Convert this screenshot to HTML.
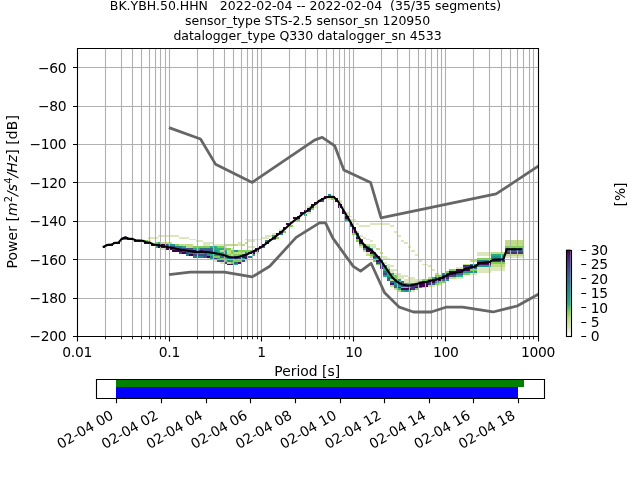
<!DOCTYPE html>
<html><head><meta charset="utf-8"><title>PPSD BK.YBH.50.HHN</title>
<style>html,body{margin:0;padding:0;background:#fff}body{width:640px;height:480px;overflow:hidden}</style></head>
<body>
<svg width="640" height="480" viewBox="0 0 640 480" style="display:block">
<rect width="640" height="480" fill="#fff"/>
<g shape-rendering="crispEdges"><rect x="327.91" y="194.40" width="3.47" height="1.92" fill="#1f968b"/><rect x="324.44" y="196.32" width="10.40" height="1.92" fill="#440154"/><rect x="320.98" y="198.24" width="3.47" height="1.92" fill="#440154"/><rect x="327.91" y="198.24" width="3.47" height="1.92" fill="#dce7be"/><rect x="331.38" y="198.24" width="3.47" height="1.92" fill="#7dcf50"/><rect x="334.85" y="198.24" width="3.47" height="1.92" fill="#440154"/><rect x="317.51" y="200.16" width="3.47" height="1.92" fill="#440154"/><rect x="320.98" y="200.16" width="3.47" height="1.92" fill="#3d4e8a"/><rect x="334.85" y="200.16" width="3.47" height="1.92" fill="#440154"/><rect x="338.31" y="200.16" width="3.47" height="1.92" fill="#dce7be"/><rect x="314.04" y="202.08" width="3.47" height="1.92" fill="#440154"/><rect x="338.31" y="202.08" width="3.47" height="1.92" fill="#dce7be"/><rect x="310.57" y="204.00" width="3.47" height="1.92" fill="#440154"/><rect x="338.31" y="204.00" width="3.47" height="1.92" fill="#440154"/><rect x="307.10" y="205.92" width="3.47" height="1.92" fill="#dce7be"/><rect x="310.57" y="205.92" width="3.47" height="1.92" fill="#46327e"/><rect x="314.04" y="205.92" width="3.47" height="1.92" fill="#dce7be"/><rect x="338.31" y="205.92" width="3.47" height="1.92" fill="#440154"/><rect x="341.78" y="205.92" width="3.47" height="1.92" fill="#dce7be"/><rect x="307.10" y="207.84" width="3.47" height="1.92" fill="#440154"/><rect x="310.57" y="207.84" width="3.47" height="1.92" fill="#7dcf50"/><rect x="303.64" y="209.76" width="3.47" height="1.92" fill="#440154"/><rect x="307.10" y="209.76" width="3.47" height="1.92" fill="#3d4e8a"/><rect x="341.78" y="209.76" width="3.47" height="1.92" fill="#440154"/><rect x="300.17" y="211.68" width="3.47" height="1.92" fill="#440154"/><rect x="307.10" y="211.68" width="3.47" height="1.92" fill="#dce7be"/><rect x="341.78" y="211.68" width="3.47" height="1.92" fill="#440154"/><rect x="345.25" y="211.68" width="3.47" height="1.92" fill="#dce7be"/><rect x="303.64" y="213.60" width="3.47" height="1.92" fill="#26ad81"/><rect x="345.25" y="213.60" width="3.47" height="1.92" fill="#dce7be"/><rect x="296.70" y="215.52" width="3.47" height="1.92" fill="#440154"/><rect x="345.25" y="215.52" width="3.47" height="1.92" fill="#440154"/><rect x="348.72" y="215.52" width="3.47" height="1.92" fill="#dce7be"/><rect x="293.23" y="217.44" width="3.47" height="1.92" fill="#440154"/><rect x="296.70" y="217.44" width="3.47" height="1.92" fill="#440154"/><rect x="345.25" y="217.44" width="3.47" height="1.92" fill="#440154"/><rect x="296.70" y="219.36" width="3.47" height="1.92" fill="#7dcf50"/><rect x="345.25" y="219.36" width="3.47" height="1.92" fill="#26ad81"/><rect x="348.72" y="219.36" width="6.94" height="1.92" fill="#dce7be"/><rect x="289.76" y="221.28" width="3.47" height="1.92" fill="#440154"/><rect x="348.72" y="221.28" width="3.47" height="1.92" fill="#440154"/><rect x="286.30" y="223.20" width="3.47" height="1.92" fill="#440154"/><rect x="348.72" y="223.20" width="3.47" height="1.92" fill="#440154"/><rect x="355.65" y="223.20" width="3.47" height="1.92" fill="#dce7be"/><rect x="369.53" y="223.20" width="20.81" height="1.92" fill="#dce7be"/><rect x="289.76" y="225.12" width="3.47" height="1.92" fill="#7dcf50"/><rect x="348.72" y="225.12" width="3.47" height="1.92" fill="#277f8e"/><rect x="359.12" y="225.12" width="10.40" height="1.92" fill="#dce7be"/><rect x="390.33" y="225.12" width="3.47" height="1.92" fill="#dce7be"/><rect x="282.83" y="227.04" width="3.47" height="1.92" fill="#440154"/><rect x="352.19" y="227.04" width="3.47" height="1.92" fill="#440154"/><rect x="279.36" y="228.96" width="3.47" height="1.92" fill="#dce7be"/><rect x="352.19" y="228.96" width="3.47" height="1.92" fill="#440154"/><rect x="279.36" y="230.88" width="3.47" height="1.92" fill="#440154"/><rect x="282.83" y="230.88" width="3.47" height="1.92" fill="#7dcf50"/><rect x="352.19" y="230.88" width="3.47" height="1.92" fill="#440154"/><rect x="355.65" y="230.88" width="3.47" height="1.92" fill="#dce7be"/><rect x="393.80" y="230.88" width="3.47" height="1.92" fill="#dce7be"/><rect x="272.43" y="232.80" width="3.47" height="1.92" fill="#dce7be"/><rect x="275.89" y="232.80" width="3.47" height="1.92" fill="#440154"/><rect x="279.36" y="232.80" width="3.47" height="1.92" fill="#277f8e"/><rect x="352.19" y="232.80" width="3.47" height="1.92" fill="#7dcf50"/><rect x="355.65" y="232.80" width="3.47" height="1.92" fill="#3d4e8a"/><rect x="157.99" y="234.72" width="20.81" height="1.92" fill="#dce7be"/><rect x="265.49" y="234.72" width="6.94" height="1.92" fill="#dce7be"/><rect x="272.43" y="234.72" width="3.47" height="1.92" fill="#26ad81"/><rect x="355.65" y="234.72" width="3.47" height="1.92" fill="#1f968b"/><rect x="359.12" y="234.72" width="3.47" height="1.92" fill="#dce7be"/><rect x="397.27" y="234.72" width="3.47" height="1.92" fill="#dce7be"/><rect x="123.31" y="236.64" width="3.47" height="1.92" fill="#440154"/><rect x="147.58" y="236.64" width="10.40" height="1.92" fill="#dce7be"/><rect x="178.79" y="236.64" width="10.40" height="1.92" fill="#dce7be"/><rect x="262.02" y="236.64" width="6.94" height="1.92" fill="#dce7be"/><rect x="272.43" y="236.64" width="3.47" height="1.92" fill="#440154"/><rect x="275.89" y="236.64" width="3.47" height="1.92" fill="#7dcf50"/><rect x="355.65" y="236.64" width="3.47" height="1.92" fill="#440154"/><rect x="362.59" y="236.64" width="3.47" height="1.92" fill="#dce7be"/><rect x="119.84" y="238.56" width="3.47" height="1.92" fill="#440154"/><rect x="123.31" y="238.56" width="3.47" height="1.92" fill="#1f968b"/><rect x="126.78" y="238.56" width="6.94" height="1.92" fill="#440154"/><rect x="133.71" y="238.56" width="6.94" height="1.92" fill="#dce7be"/><rect x="189.20" y="238.56" width="6.94" height="1.92" fill="#dce7be"/><rect x="244.68" y="238.56" width="17.34" height="1.92" fill="#dce7be"/><rect x="268.96" y="238.56" width="3.47" height="1.92" fill="#440154"/><rect x="272.43" y="238.56" width="3.47" height="1.92" fill="#26ad81"/><rect x="355.65" y="238.56" width="3.47" height="1.92" fill="#7dcf50"/><rect x="359.12" y="238.56" width="3.47" height="1.92" fill="#3d4e8a"/><rect x="366.06" y="238.56" width="3.47" height="1.92" fill="#dce7be"/><rect x="133.71" y="240.48" width="10.40" height="1.92" fill="#440154"/><rect x="144.11" y="240.48" width="3.47" height="1.92" fill="#7dcf50"/><rect x="147.58" y="240.48" width="3.47" height="1.92" fill="#dce7be"/><rect x="196.13" y="240.48" width="6.94" height="1.92" fill="#dce7be"/><rect x="248.15" y="240.48" width="6.94" height="1.92" fill="#dce7be"/><rect x="265.49" y="240.48" width="3.47" height="1.92" fill="#1f968b"/><rect x="355.65" y="240.48" width="3.47" height="1.92" fill="#7dcf50"/><rect x="359.12" y="240.48" width="3.47" height="1.92" fill="#440154"/><rect x="369.53" y="240.48" width="3.47" height="1.92" fill="#dce7be"/><rect x="400.74" y="240.48" width="3.47" height="1.92" fill="#dce7be"/><rect x="504.77" y="240.48" width="18.04" height="1.92" fill="#c0dd86"/><rect x="112.90" y="242.40" width="6.94" height="1.92" fill="#440154"/><rect x="144.11" y="242.40" width="6.94" height="1.92" fill="#440154"/><rect x="154.52" y="242.40" width="3.47" height="1.92" fill="#7dcf50"/><rect x="157.99" y="242.40" width="3.47" height="1.92" fill="#26ad81"/><rect x="161.45" y="242.40" width="10.40" height="1.92" fill="#c0dd86"/><rect x="203.07" y="242.40" width="10.40" height="1.92" fill="#dce7be"/><rect x="237.75" y="242.40" width="3.47" height="1.92" fill="#dce7be"/><rect x="244.68" y="242.40" width="3.47" height="1.92" fill="#c0dd86"/><rect x="265.49" y="242.40" width="3.47" height="1.92" fill="#440154"/><rect x="359.12" y="242.40" width="3.47" height="1.92" fill="#440154"/><rect x="404.20" y="242.40" width="3.47" height="1.92" fill="#dce7be"/><rect x="504.77" y="242.40" width="18.04" height="1.92" fill="#c0dd86"/><rect x="105.97" y="244.32" width="6.94" height="1.92" fill="#440154"/><rect x="151.05" y="244.32" width="13.87" height="1.92" fill="#440154"/><rect x="164.92" y="244.32" width="3.47" height="1.92" fill="#3d4e8a"/><rect x="168.39" y="244.32" width="6.94" height="1.92" fill="#1f968b"/><rect x="175.33" y="244.32" width="3.47" height="1.92" fill="#7dcf50"/><rect x="178.79" y="244.32" width="13.87" height="1.92" fill="#c0dd86"/><rect x="203.07" y="244.32" width="6.94" height="1.92" fill="#dce7be"/><rect x="213.47" y="244.32" width="10.40" height="1.92" fill="#dce7be"/><rect x="223.88" y="244.32" width="13.87" height="1.92" fill="#c0dd86"/><rect x="237.75" y="244.32" width="3.47" height="1.92" fill="#dce7be"/><rect x="241.21" y="244.32" width="3.47" height="1.92" fill="#c0dd86"/><rect x="262.02" y="244.32" width="3.47" height="1.92" fill="#440154"/><rect x="359.12" y="244.32" width="3.47" height="1.92" fill="#7dcf50"/><rect x="362.59" y="244.32" width="3.47" height="1.92" fill="#3d4e8a"/><rect x="366.06" y="244.32" width="3.47" height="1.92" fill="#c0dd86"/><rect x="369.53" y="244.32" width="6.94" height="1.92" fill="#dce7be"/><rect x="504.77" y="244.32" width="18.04" height="1.92" fill="#c0dd86"/><rect x="102.50" y="246.24" width="3.47" height="1.92" fill="#440154"/><rect x="154.52" y="246.24" width="3.47" height="1.92" fill="#26ad81"/><rect x="157.99" y="246.24" width="6.94" height="1.92" fill="#440154"/><rect x="164.92" y="246.24" width="10.40" height="1.92" fill="#3d4e8a"/><rect x="175.33" y="246.24" width="6.94" height="1.92" fill="#277f8e"/><rect x="182.26" y="246.24" width="3.47" height="1.92" fill="#26ad81"/><rect x="185.73" y="246.24" width="6.94" height="1.92" fill="#c0dd86"/><rect x="192.66" y="246.24" width="17.34" height="1.92" fill="#7dcf50"/><rect x="210.00" y="246.24" width="6.94" height="1.92" fill="#26ad81"/><rect x="216.94" y="246.24" width="6.94" height="1.92" fill="#7dcf50"/><rect x="223.88" y="246.24" width="3.47" height="1.92" fill="#dce7be"/><rect x="248.15" y="246.24" width="6.94" height="1.92" fill="#dce7be"/><rect x="258.55" y="246.24" width="3.47" height="1.92" fill="#440154"/><rect x="262.02" y="246.24" width="3.47" height="1.92" fill="#277f8e"/><rect x="359.12" y="246.24" width="3.47" height="1.92" fill="#dce7be"/><rect x="362.59" y="246.24" width="3.47" height="1.92" fill="#440154"/><rect x="366.06" y="246.24" width="3.47" height="1.92" fill="#26ad81"/><rect x="369.53" y="246.24" width="6.94" height="1.92" fill="#dce7be"/><rect x="407.67" y="246.24" width="3.47" height="1.92" fill="#dce7be"/><rect x="504.77" y="246.24" width="18.04" height="1.92" fill="#7dcf50"/><rect x="161.45" y="248.16" width="3.47" height="1.92" fill="#dce7be"/><rect x="164.92" y="248.16" width="6.94" height="1.92" fill="#440154"/><rect x="171.86" y="248.16" width="20.81" height="1.92" fill="#3d4e8a"/><rect x="192.66" y="248.16" width="6.94" height="1.92" fill="#26ad81"/><rect x="199.60" y="248.16" width="13.87" height="1.92" fill="#31688e"/><rect x="213.47" y="248.16" width="10.40" height="1.92" fill="#26ad81"/><rect x="223.88" y="248.16" width="6.94" height="1.92" fill="#7dcf50"/><rect x="230.81" y="248.16" width="3.47" height="1.92" fill="#dce7be"/><rect x="255.09" y="248.16" width="3.47" height="1.92" fill="#440154"/><rect x="362.59" y="248.16" width="3.47" height="1.92" fill="#1f968b"/><rect x="366.06" y="248.16" width="3.47" height="1.92" fill="#440154"/><rect x="369.53" y="248.16" width="3.47" height="1.92" fill="#26ad81"/><rect x="376.46" y="248.16" width="3.47" height="1.92" fill="#c0dd86"/><rect x="504.77" y="248.16" width="18.04" height="1.92" fill="#31688e"/><rect x="171.86" y="250.08" width="10.40" height="1.92" fill="#440154"/><rect x="182.26" y="250.08" width="3.47" height="1.92" fill="#3d4e8a"/><rect x="185.73" y="250.08" width="6.94" height="1.92" fill="#46327e"/><rect x="192.66" y="250.08" width="3.47" height="1.92" fill="#440154"/><rect x="196.13" y="250.08" width="3.47" height="1.92" fill="#3d4e8a"/><rect x="199.60" y="250.08" width="3.47" height="1.92" fill="#471365"/><rect x="203.07" y="250.08" width="10.40" height="1.92" fill="#3d4e8a"/><rect x="213.47" y="250.08" width="3.47" height="1.92" fill="#1f968b"/><rect x="216.94" y="250.08" width="3.47" height="1.92" fill="#26ad81"/><rect x="220.41" y="250.08" width="3.47" height="1.92" fill="#c0dd86"/><rect x="223.88" y="250.08" width="3.47" height="1.92" fill="#26ad81"/><rect x="227.34" y="250.08" width="3.47" height="1.92" fill="#c0dd86"/><rect x="230.81" y="250.08" width="3.47" height="1.92" fill="#7dcf50"/><rect x="234.28" y="250.08" width="3.47" height="1.92" fill="#1f968b"/><rect x="237.75" y="250.08" width="13.87" height="1.92" fill="#7dcf50"/><rect x="251.62" y="250.08" width="3.47" height="1.92" fill="#440154"/><rect x="255.09" y="250.08" width="3.47" height="1.92" fill="#46327e"/><rect x="362.59" y="250.08" width="3.47" height="1.92" fill="#c0dd86"/><rect x="366.06" y="250.08" width="3.47" height="1.92" fill="#440154"/><rect x="369.53" y="250.08" width="3.47" height="1.92" fill="#3d4e8a"/><rect x="411.14" y="250.08" width="3.47" height="1.92" fill="#dce7be"/><rect x="504.77" y="250.08" width="18.04" height="1.92" fill="#31688e"/><rect x="178.79" y="252.00" width="3.47" height="1.92" fill="#3d4e8a"/><rect x="182.26" y="252.00" width="3.47" height="1.92" fill="#440154"/><rect x="185.73" y="252.00" width="3.47" height="1.92" fill="#3d4e8a"/><rect x="189.20" y="252.00" width="3.47" height="1.92" fill="#277f8e"/><rect x="192.66" y="252.00" width="3.47" height="1.92" fill="#1f968b"/><rect x="196.13" y="252.00" width="10.40" height="1.92" fill="#26ad81"/><rect x="206.54" y="252.00" width="3.47" height="1.92" fill="#7dcf50"/><rect x="210.00" y="252.00" width="3.47" height="1.92" fill="#26ad81"/><rect x="213.47" y="252.00" width="3.47" height="1.92" fill="#277f8e"/><rect x="216.94" y="252.00" width="6.94" height="1.92" fill="#26ad81"/><rect x="223.88" y="252.00" width="3.47" height="1.92" fill="#1f968b"/><rect x="227.34" y="252.00" width="3.47" height="1.92" fill="#c0dd86"/><rect x="230.81" y="252.00" width="3.47" height="1.92" fill="#7dcf50"/><rect x="234.28" y="252.00" width="10.40" height="1.92" fill="#c0dd86"/><rect x="244.68" y="252.00" width="3.47" height="1.92" fill="#1f968b"/><rect x="248.15" y="252.00" width="3.47" height="1.92" fill="#440154"/><rect x="251.62" y="252.00" width="3.47" height="1.92" fill="#440154"/><rect x="255.09" y="252.00" width="3.47" height="1.92" fill="#dce7be"/><rect x="366.06" y="252.00" width="3.47" height="1.92" fill="#dce7be"/><rect x="369.53" y="252.00" width="3.47" height="1.92" fill="#440154"/><rect x="372.99" y="252.00" width="3.47" height="1.92" fill="#1f968b"/><rect x="379.93" y="252.00" width="3.47" height="1.92" fill="#c0dd86"/><rect x="477.03" y="252.00" width="13.87" height="1.92" fill="#dce7be"/><rect x="490.90" y="252.00" width="13.87" height="1.92" fill="#c0dd86"/><rect x="504.77" y="252.00" width="18.04" height="1.92" fill="#46327e"/><rect x="185.73" y="253.92" width="3.47" height="1.92" fill="#277f8e"/><rect x="189.20" y="253.92" width="3.47" height="1.92" fill="#440154"/><rect x="192.66" y="253.92" width="13.87" height="1.92" fill="#3d4e8a"/><rect x="206.54" y="253.92" width="3.47" height="1.92" fill="#1f968b"/><rect x="210.00" y="253.92" width="3.47" height="1.92" fill="#26ad81"/><rect x="213.47" y="253.92" width="6.94" height="1.92" fill="#1f968b"/><rect x="220.41" y="253.92" width="3.47" height="1.92" fill="#277f8e"/><rect x="223.88" y="253.92" width="3.47" height="1.92" fill="#26ad81"/><rect x="227.34" y="253.92" width="3.47" height="1.92" fill="#7dcf50"/><rect x="230.81" y="253.92" width="3.47" height="1.92" fill="#c0dd86"/><rect x="234.28" y="253.92" width="6.94" height="1.92" fill="#7dcf50"/><rect x="241.21" y="253.92" width="3.47" height="1.92" fill="#277f8e"/><rect x="244.68" y="253.92" width="3.47" height="1.92" fill="#3d4e8a"/><rect x="251.62" y="253.92" width="3.47" height="1.92" fill="#26ad81"/><rect x="366.06" y="253.92" width="3.47" height="1.92" fill="#c0dd86"/><rect x="369.53" y="253.92" width="3.47" height="1.92" fill="#7dcf50"/><rect x="372.99" y="253.92" width="3.47" height="1.92" fill="#277f8e"/><rect x="414.61" y="253.92" width="3.47" height="1.92" fill="#dce7be"/><rect x="477.03" y="253.92" width="13.87" height="1.92" fill="#dce7be"/><rect x="490.90" y="253.92" width="13.87" height="1.92" fill="#26ad81"/><rect x="504.77" y="253.92" width="18.04" height="1.92" fill="#c0dd86"/><rect x="192.66" y="255.84" width="10.40" height="1.92" fill="#277f8e"/><rect x="203.07" y="255.84" width="3.47" height="1.92" fill="#3d4e8a"/><rect x="206.54" y="255.84" width="3.47" height="1.92" fill="#440154"/><rect x="210.00" y="255.84" width="3.47" height="1.92" fill="#277f8e"/><rect x="213.47" y="255.84" width="6.94" height="1.92" fill="#7dcf50"/><rect x="220.41" y="255.84" width="3.47" height="1.92" fill="#31688e"/><rect x="223.88" y="255.84" width="3.47" height="1.92" fill="#277f8e"/><rect x="227.34" y="255.84" width="13.87" height="1.92" fill="#3d4e8a"/><rect x="241.21" y="255.84" width="6.94" height="1.92" fill="#471365"/><rect x="248.15" y="255.84" width="3.47" height="1.92" fill="#277f8e"/><rect x="369.53" y="255.84" width="3.47" height="1.92" fill="#c0dd86"/><rect x="372.99" y="255.84" width="3.47" height="1.92" fill="#46327e"/><rect x="376.46" y="255.84" width="3.47" height="1.92" fill="#3d4e8a"/><rect x="379.93" y="255.84" width="6.94" height="1.92" fill="#dce7be"/><rect x="490.90" y="255.84" width="13.87" height="1.92" fill="#1f968b"/><rect x="504.77" y="255.84" width="18.04" height="1.92" fill="#dce7be"/><rect x="206.54" y="257.76" width="3.47" height="1.92" fill="#dce7be"/><rect x="210.00" y="257.76" width="3.47" height="1.92" fill="#1f968b"/><rect x="213.47" y="257.76" width="3.47" height="1.92" fill="#46327e"/><rect x="216.94" y="257.76" width="3.47" height="1.92" fill="#1f968b"/><rect x="220.41" y="257.76" width="3.47" height="1.92" fill="#7dcf50"/><rect x="223.88" y="257.76" width="3.47" height="1.92" fill="#26ad81"/><rect x="227.34" y="257.76" width="6.94" height="1.92" fill="#277f8e"/><rect x="234.28" y="257.76" width="6.94" height="1.92" fill="#3d4e8a"/><rect x="241.21" y="257.76" width="3.47" height="1.92" fill="#1f968b"/><rect x="244.68" y="257.76" width="3.47" height="1.92" fill="#471365"/><rect x="372.99" y="257.76" width="3.47" height="1.92" fill="#277f8e"/><rect x="376.46" y="257.76" width="3.47" height="1.92" fill="#26ad81"/><rect x="383.40" y="257.76" width="6.94" height="1.92" fill="#dce7be"/><rect x="477.03" y="257.76" width="13.87" height="1.92" fill="#7dcf50"/><rect x="490.90" y="257.76" width="13.87" height="1.92" fill="#277f8e"/><rect x="213.47" y="259.68" width="3.47" height="1.92" fill="#dce7be"/><rect x="216.94" y="259.68" width="3.47" height="1.92" fill="#31688e"/><rect x="220.41" y="259.68" width="3.47" height="1.92" fill="#3d4e8a"/><rect x="223.88" y="259.68" width="3.47" height="1.92" fill="#7dcf50"/><rect x="227.34" y="259.68" width="6.94" height="1.92" fill="#1f968b"/><rect x="234.28" y="259.68" width="6.94" height="1.92" fill="#7dcf50"/><rect x="241.21" y="259.68" width="3.47" height="1.92" fill="#3d4e8a"/><rect x="244.68" y="259.68" width="3.47" height="1.92" fill="#dce7be"/><rect x="372.99" y="259.68" width="3.47" height="1.92" fill="#7dcf50"/><rect x="376.46" y="259.68" width="3.47" height="1.92" fill="#471365"/><rect x="379.93" y="259.68" width="3.47" height="1.92" fill="#1f968b"/><rect x="418.08" y="259.68" width="3.47" height="1.92" fill="#dce7be"/><rect x="470.09" y="259.68" width="6.94" height="1.92" fill="#c0dd86"/><rect x="477.03" y="259.68" width="13.87" height="1.92" fill="#277f8e"/><rect x="490.90" y="259.68" width="13.87" height="1.92" fill="#46327e"/><rect x="220.41" y="261.60" width="3.47" height="1.92" fill="#dce7be"/><rect x="223.88" y="261.60" width="3.47" height="1.92" fill="#3d4e8a"/><rect x="227.34" y="261.60" width="3.47" height="1.92" fill="#c0dd86"/><rect x="230.81" y="261.60" width="3.47" height="1.92" fill="#7dcf50"/><rect x="234.28" y="261.60" width="3.47" height="1.92" fill="#31688e"/><rect x="237.75" y="261.60" width="3.47" height="1.92" fill="#471365"/><rect x="376.46" y="261.60" width="6.94" height="1.92" fill="#3d4e8a"/><rect x="383.40" y="261.60" width="3.47" height="1.92" fill="#dce7be"/><rect x="477.03" y="261.60" width="13.87" height="1.92" fill="#440154"/><rect x="490.90" y="261.60" width="13.87" height="1.92" fill="#7dcf50"/><rect x="227.34" y="263.52" width="6.94" height="1.92" fill="#471365"/><rect x="234.28" y="263.52" width="3.47" height="1.92" fill="#26ad81"/><rect x="376.46" y="263.52" width="3.47" height="1.92" fill="#7dcf50"/><rect x="379.93" y="263.52" width="3.47" height="1.92" fill="#3d4e8a"/><rect x="386.86" y="263.52" width="3.47" height="1.92" fill="#dce7be"/><rect x="421.54" y="263.52" width="6.94" height="1.92" fill="#dce7be"/><rect x="463.16" y="263.52" width="6.94" height="1.92" fill="#c0dd86"/><rect x="470.09" y="263.52" width="6.94" height="1.92" fill="#277f8e"/><rect x="477.03" y="263.52" width="13.87" height="1.92" fill="#471365"/><rect x="490.90" y="263.52" width="13.87" height="1.92" fill="#c0dd86"/><rect x="379.93" y="265.44" width="3.47" height="1.92" fill="#46327e"/><rect x="383.40" y="265.44" width="3.47" height="1.92" fill="#1f968b"/><rect x="386.86" y="265.44" width="6.94" height="1.92" fill="#dce7be"/><rect x="428.48" y="265.44" width="3.47" height="1.92" fill="#dce7be"/><rect x="463.16" y="265.44" width="6.94" height="1.92" fill="#46327e"/><rect x="470.09" y="265.44" width="6.94" height="1.92" fill="#440154"/><rect x="477.03" y="265.44" width="13.87" height="1.92" fill="#1f968b"/><rect x="490.90" y="265.44" width="13.87" height="1.92" fill="#c0dd86"/><rect x="379.93" y="267.36" width="3.47" height="1.92" fill="#46327e"/><rect x="383.40" y="267.36" width="3.47" height="1.92" fill="#26ad81"/><rect x="386.86" y="267.36" width="3.47" height="1.92" fill="#c0dd86"/><rect x="456.22" y="267.36" width="6.94" height="1.92" fill="#dce7be"/><rect x="463.16" y="267.36" width="6.94" height="1.92" fill="#1f968b"/><rect x="470.09" y="267.36" width="6.94" height="1.92" fill="#31688e"/><rect x="477.03" y="267.36" width="27.74" height="1.92" fill="#dce7be"/><rect x="383.40" y="269.28" width="6.94" height="1.92" fill="#26ad81"/><rect x="390.33" y="269.28" width="6.94" height="1.92" fill="#dce7be"/><rect x="431.95" y="269.28" width="3.47" height="1.92" fill="#dce7be"/><rect x="449.29" y="269.28" width="6.94" height="1.92" fill="#7dcf50"/><rect x="456.22" y="269.28" width="6.94" height="1.92" fill="#440154"/><rect x="463.16" y="269.28" width="6.94" height="1.92" fill="#440154"/><rect x="470.09" y="269.28" width="6.94" height="1.92" fill="#7dcf50"/><rect x="477.03" y="269.28" width="27.74" height="1.92" fill="#dce7be"/><rect x="383.40" y="271.20" width="3.47" height="1.92" fill="#31688e"/><rect x="386.86" y="271.20" width="3.47" height="1.92" fill="#1f968b"/><rect x="390.33" y="271.20" width="3.47" height="1.92" fill="#dce7be"/><rect x="445.82" y="271.20" width="3.47" height="1.92" fill="#7dcf50"/><rect x="449.29" y="271.20" width="6.94" height="1.92" fill="#440154"/><rect x="456.22" y="271.20" width="6.94" height="1.92" fill="#471365"/><rect x="463.16" y="271.20" width="13.87" height="1.92" fill="#1f968b"/><rect x="477.03" y="271.20" width="13.87" height="1.92" fill="#dce7be"/><rect x="383.40" y="273.12" width="3.47" height="1.92" fill="#3d4e8a"/><rect x="386.86" y="273.12" width="6.94" height="1.92" fill="#26ad81"/><rect x="393.80" y="273.12" width="6.94" height="1.92" fill="#dce7be"/><rect x="435.42" y="273.12" width="3.47" height="1.92" fill="#c0dd86"/><rect x="442.35" y="273.12" width="3.47" height="1.92" fill="#277f8e"/><rect x="445.82" y="273.12" width="3.47" height="1.92" fill="#31688e"/><rect x="449.29" y="273.12" width="6.94" height="1.92" fill="#471365"/><rect x="456.22" y="273.12" width="6.94" height="1.92" fill="#31688e"/><rect x="463.16" y="273.12" width="6.94" height="1.92" fill="#7dcf50"/><rect x="470.09" y="273.12" width="6.94" height="1.92" fill="#dce7be"/><rect x="383.40" y="275.04" width="6.94" height="1.92" fill="#26ad81"/><rect x="390.33" y="275.04" width="6.94" height="1.92" fill="#7dcf50"/><rect x="397.27" y="275.04" width="10.40" height="1.92" fill="#dce7be"/><rect x="435.42" y="275.04" width="6.94" height="1.92" fill="#7dcf50"/><rect x="442.35" y="275.04" width="3.47" height="1.92" fill="#46327e"/><rect x="445.82" y="275.04" width="3.47" height="1.92" fill="#471365"/><rect x="449.29" y="275.04" width="6.94" height="1.92" fill="#3d4e8a"/><rect x="456.22" y="275.04" width="6.94" height="1.92" fill="#26ad81"/><rect x="386.86" y="276.96" width="3.47" height="1.92" fill="#31688e"/><rect x="390.33" y="276.96" width="3.47" height="1.92" fill="#1f968b"/><rect x="393.80" y="276.96" width="3.47" height="1.92" fill="#7dcf50"/><rect x="397.27" y="276.96" width="6.94" height="1.92" fill="#dce7be"/><rect x="407.67" y="276.96" width="6.94" height="1.92" fill="#dce7be"/><rect x="428.48" y="276.96" width="3.47" height="1.92" fill="#c0dd86"/><rect x="431.95" y="276.96" width="3.47" height="1.92" fill="#26ad81"/><rect x="435.42" y="276.96" width="3.47" height="1.92" fill="#3d4e8a"/><rect x="438.88" y="276.96" width="3.47" height="1.92" fill="#440154"/><rect x="442.35" y="276.96" width="3.47" height="1.92" fill="#471365"/><rect x="445.82" y="276.96" width="3.47" height="1.92" fill="#46327e"/><rect x="449.29" y="276.96" width="6.94" height="1.92" fill="#c0dd86"/><rect x="456.22" y="276.96" width="6.94" height="1.92" fill="#dce7be"/><rect x="386.86" y="278.88" width="3.47" height="1.92" fill="#31688e"/><rect x="390.33" y="278.88" width="3.47" height="1.92" fill="#c0dd86"/><rect x="393.80" y="278.88" width="3.47" height="1.92" fill="#277f8e"/><rect x="397.27" y="278.88" width="3.47" height="1.92" fill="#1f968b"/><rect x="404.20" y="278.88" width="17.34" height="1.92" fill="#dce7be"/><rect x="421.54" y="278.88" width="6.94" height="1.92" fill="#7dcf50"/><rect x="428.48" y="278.88" width="3.47" height="1.92" fill="#1f968b"/><rect x="431.95" y="278.88" width="3.47" height="1.92" fill="#3d4e8a"/><rect x="435.42" y="278.88" width="3.47" height="1.92" fill="#471365"/><rect x="438.88" y="278.88" width="3.47" height="1.92" fill="#440154"/><rect x="442.35" y="278.88" width="3.47" height="1.92" fill="#31688e"/><rect x="445.82" y="278.88" width="3.47" height="1.92" fill="#1f968b"/><rect x="390.33" y="280.80" width="3.47" height="1.92" fill="#31688e"/><rect x="393.80" y="280.80" width="3.47" height="1.92" fill="#277f8e"/><rect x="397.27" y="280.80" width="3.47" height="1.92" fill="#7dcf50"/><rect x="400.74" y="280.80" width="3.47" height="1.92" fill="#31688e"/><rect x="404.20" y="280.80" width="10.40" height="1.92" fill="#dce7be"/><rect x="414.61" y="280.80" width="3.47" height="1.92" fill="#c0dd86"/><rect x="418.08" y="280.80" width="3.47" height="1.92" fill="#26ad81"/><rect x="421.54" y="280.80" width="3.47" height="1.92" fill="#1f968b"/><rect x="425.01" y="280.80" width="3.47" height="1.92" fill="#3d4e8a"/><rect x="428.48" y="280.80" width="3.47" height="1.92" fill="#46327e"/><rect x="431.95" y="280.80" width="3.47" height="1.92" fill="#440154"/><rect x="435.42" y="280.80" width="3.47" height="1.92" fill="#1f968b"/><rect x="438.88" y="280.80" width="6.94" height="1.92" fill="#7dcf50"/><rect x="390.33" y="282.72" width="3.47" height="1.92" fill="#471365"/><rect x="393.80" y="282.72" width="3.47" height="1.92" fill="#1f968b"/><rect x="397.27" y="282.72" width="3.47" height="1.92" fill="#3d4e8a"/><rect x="400.74" y="282.72" width="3.47" height="1.92" fill="#7dcf50"/><rect x="404.20" y="282.72" width="10.40" height="1.92" fill="#26ad81"/><rect x="414.61" y="282.72" width="3.47" height="1.92" fill="#277f8e"/><rect x="418.08" y="282.72" width="6.94" height="1.92" fill="#440154"/><rect x="425.01" y="282.72" width="3.47" height="1.92" fill="#440154"/><rect x="428.48" y="282.72" width="3.47" height="1.92" fill="#46327e"/><rect x="431.95" y="282.72" width="3.47" height="1.92" fill="#31688e"/><rect x="435.42" y="282.72" width="3.47" height="1.92" fill="#7dcf50"/><rect x="438.88" y="282.72" width="3.47" height="1.92" fill="#c0dd86"/><rect x="390.33" y="284.64" width="3.47" height="1.92" fill="#c0dd86"/><rect x="393.80" y="284.64" width="3.47" height="1.92" fill="#31688e"/><rect x="397.27" y="284.64" width="3.47" height="1.92" fill="#1f968b"/><rect x="400.74" y="284.64" width="6.94" height="1.92" fill="#3d4e8a"/><rect x="407.67" y="284.64" width="10.40" height="1.92" fill="#46327e"/><rect x="418.08" y="284.64" width="6.94" height="1.92" fill="#440154"/><rect x="425.01" y="284.64" width="3.47" height="1.92" fill="#440154"/><rect x="428.48" y="284.64" width="3.47" height="1.92" fill="#c0dd86"/><rect x="431.95" y="284.64" width="3.47" height="1.92" fill="#dce7be"/><rect x="393.80" y="286.56" width="3.47" height="1.92" fill="#31688e"/><rect x="397.27" y="286.56" width="3.47" height="1.92" fill="#46327e"/><rect x="400.74" y="286.56" width="6.94" height="1.92" fill="#7dcf50"/><rect x="407.67" y="286.56" width="3.47" height="1.92" fill="#1f968b"/><rect x="411.14" y="286.56" width="3.47" height="1.92" fill="#46327e"/><rect x="414.61" y="286.56" width="3.47" height="1.92" fill="#440154"/><rect x="418.08" y="286.56" width="3.47" height="1.92" fill="#277f8e"/><rect x="421.54" y="286.56" width="3.47" height="1.92" fill="#c0dd86"/><rect x="393.80" y="288.48" width="3.47" height="1.92" fill="#c0dd86"/><rect x="397.27" y="288.48" width="3.47" height="1.92" fill="#26ad81"/><rect x="400.74" y="288.48" width="10.40" height="1.92" fill="#440154"/><rect x="411.14" y="288.48" width="3.47" height="1.92" fill="#46327e"/><rect x="414.61" y="288.48" width="3.47" height="1.92" fill="#7dcf50"/><rect x="397.27" y="290.40" width="3.47" height="1.92" fill="#c0dd86"/><rect x="400.74" y="290.40" width="3.47" height="1.92" fill="#26ad81"/><rect x="404.20" y="290.40" width="3.47" height="1.92" fill="#1f968b"/><rect x="407.67" y="290.40" width="3.47" height="1.92" fill="#26ad81"/><rect x="411.14" y="290.40" width="3.47" height="1.92" fill="#dce7be"/></g>
<path d="M105.5 48.0V336.5M121.5 48.0V336.5M132.5 48.0V336.5M141.5 48.0V336.5M149.5 48.0V336.5M155.5 48.0V336.5M160.5 48.0V336.5M165.5 48.0V336.5M169.5 48.0V336.5M197.5 48.0V336.5M213.5 48.0V336.5M224.5 48.0V336.5M233.5 48.0V336.5M241.5 48.0V336.5M247.5 48.0V336.5M252.5 48.0V336.5M257.5 48.0V336.5M261.5 48.0V336.5M289.5 48.0V336.5M305.5 48.0V336.5M317.5 48.0V336.5M326.5 48.0V336.5M333.5 48.0V336.5M339.5 48.0V336.5M344.5 48.0V336.5M349.5 48.0V336.5M353.5 48.0V336.5M381.5 48.0V336.5M397.5 48.0V336.5M409.5 48.0V336.5M418.5 48.0V336.5M425.5 48.0V336.5M431.5 48.0V336.5M437.5 48.0V336.5M441.5 48.0V336.5M445.5 48.0V336.5M473.5 48.0V336.5M489.5 48.0V336.5M501.5 48.0V336.5M510.5 48.0V336.5M517.5 48.0V336.5M523.5 48.0V336.5M529.5 48.0V336.5M533.5 48.0V336.5M76.8 298.5H538.5M76.8 259.5H538.5M76.8 221.5H538.5M76.8 182.5H538.5M76.8 144.5H538.5M76.8 106.5H538.5M76.8 67.5H538.5" stroke="#b0b0b0" stroke-width="1.11" fill="none"/>
<path d="M103.64 246.60L108.01 244.80L111.48 244.60L114.95 242.80L118.42 242.60L121.88 238.80L125.35 237.30L128.82 238.70L132.29 238.90L135.75 240.30L139.22 240.50L142.69 240.80L146.16 242.20L149.63 242.60L153.09 244.30L156.56 245.00L160.03 245.50L163.50 246.20L166.97 246.90L170.43 247.60L173.90 248.30L177.37 249.00L180.84 249.70L184.30 250.20L187.77 250.80L191.24 251.40L194.71 251.90L198.18 252.30L201.64 251.80L205.11 252.10L208.58 252.40L212.05 252.80L215.52 253.30L218.98 254.00L222.45 254.70L225.92 255.80L229.39 257.20L232.85 257.50L236.32 257.40L239.79 256.60L243.26 255.50L246.73 254.45L250.19 252.85L253.66 251.10L257.13 249.45L260.60 247.55L264.07 245.20L267.53 242.40L271.00 239.90L274.47 237.40L277.94 234.60L281.41 232.00L284.87 228.90L288.34 225.80L291.81 222.60L295.28 219.80L298.74 217.20L302.21 214.10L305.68 211.80L309.15 209.40L312.62 205.85L316.08 203.60L319.55 200.60L323.02 198.90L326.49 197.30L329.96 196.80L333.42 196.80L336.89 199.75L340.36 205.00L343.83 210.75L347.29 216.75L350.76 222.50L354.23 229.00L357.70 235.25L361.17 241.20L364.63 245.50L368.10 248.25L371.57 250.25L375.04 253.70L378.51 257.50L381.97 262.00L385.44 267.40L388.91 272.50L392.38 277.50L395.84 280.80L399.31 283.00L402.78 284.60L406.25 285.30L409.72 285.50L413.18 284.70L416.65 284.10L420.12 283.10L423.59 282.30L427.06 281.65L430.52 280.80L433.99 280.00L437.46 279.30L440.93 278.30L444.39 276.80L447.86 274.60L451.33 273.60L454.80 272.80L458.27 272.20L461.73 271.50L465.20 268.60L468.67 268.00L472.14 267.20L475.61 266.50L479.07 263.00L482.54 262.70L486.01 262.40L489.48 262.00L492.94 259.75L496.41 259.60L499.88 259.50L503.35 259.30L506.82 249.25L510.28 249.25L513.75 249.25L517.22 249.25L520.69 249.25" stroke="#000" stroke-width="2.08" fill="none" stroke-linejoin="round" stroke-linecap="square"/>
<defs><clipPath id="axclip"><rect x="76.8" y="48" width="461.7" height="288.5"/></clipPath></defs>
<path d="M168.96 274.56L190.20 272.06L224.45 272.06L252.19 276.87L269.73 266.30L296.16 237.40L319.50 222.91L325.54 222.90L332.83 238.08L353.28 266.40L360.58 271.19L371.08 263.29L384.66 292.81L399.33 307.19L413.48 312.00L431.16 312.00L445.84 307.20L462.72 307.18L492.98 311.98L517.15 306.01L629.76 243.61" clip-path="url(#axclip)" stroke="#666666" stroke-width="2.78" fill="none" stroke-linejoin="round" stroke-linecap="butt"/>
<path d="M168.96 127.68L200.52 139.02L215.51 164.16L252.19 182.40L314.55 140.16L322.20 137.28L334.79 145.92L343.85 169.91L370.56 182.40L381.02 217.91L496.13 193.93L629.76 105.87" clip-path="url(#axclip)" stroke="#666666" stroke-width="2.78" fill="none" stroke-linejoin="round" stroke-linecap="butt"/>
<path d="M77.5 48.5H538.5V336.5H77.5Z" stroke="#000" stroke-width="1.11" fill="none" stroke-linejoin="miter"/>
<path d="M105.5 336.5v2.78" stroke="#000" stroke-width="0.83"/>
<path d="M121.5 336.5v2.78" stroke="#000" stroke-width="0.83"/>
<path d="M132.5 336.5v2.78" stroke="#000" stroke-width="0.83"/>
<path d="M141.5 336.5v2.78" stroke="#000" stroke-width="0.83"/>
<path d="M149.5 336.5v2.78" stroke="#000" stroke-width="0.83"/>
<path d="M155.5 336.5v2.78" stroke="#000" stroke-width="0.83"/>
<path d="M160.5 336.5v2.78" stroke="#000" stroke-width="0.83"/>
<path d="M165.5 336.5v2.78" stroke="#000" stroke-width="0.83"/>
<path d="M197.5 336.5v2.78" stroke="#000" stroke-width="0.83"/>
<path d="M213.5 336.5v2.78" stroke="#000" stroke-width="0.83"/>
<path d="M224.5 336.5v2.78" stroke="#000" stroke-width="0.83"/>
<path d="M233.5 336.5v2.78" stroke="#000" stroke-width="0.83"/>
<path d="M241.5 336.5v2.78" stroke="#000" stroke-width="0.83"/>
<path d="M247.5 336.5v2.78" stroke="#000" stroke-width="0.83"/>
<path d="M252.5 336.5v2.78" stroke="#000" stroke-width="0.83"/>
<path d="M257.5 336.5v2.78" stroke="#000" stroke-width="0.83"/>
<path d="M289.5 336.5v2.78" stroke="#000" stroke-width="0.83"/>
<path d="M305.5 336.5v2.78" stroke="#000" stroke-width="0.83"/>
<path d="M317.5 336.5v2.78" stroke="#000" stroke-width="0.83"/>
<path d="M326.5 336.5v2.78" stroke="#000" stroke-width="0.83"/>
<path d="M333.5 336.5v2.78" stroke="#000" stroke-width="0.83"/>
<path d="M339.5 336.5v2.78" stroke="#000" stroke-width="0.83"/>
<path d="M344.5 336.5v2.78" stroke="#000" stroke-width="0.83"/>
<path d="M349.5 336.5v2.78" stroke="#000" stroke-width="0.83"/>
<path d="M381.5 336.5v2.78" stroke="#000" stroke-width="0.83"/>
<path d="M397.5 336.5v2.78" stroke="#000" stroke-width="0.83"/>
<path d="M409.5 336.5v2.78" stroke="#000" stroke-width="0.83"/>
<path d="M418.5 336.5v2.78" stroke="#000" stroke-width="0.83"/>
<path d="M425.5 336.5v2.78" stroke="#000" stroke-width="0.83"/>
<path d="M431.5 336.5v2.78" stroke="#000" stroke-width="0.83"/>
<path d="M437.5 336.5v2.78" stroke="#000" stroke-width="0.83"/>
<path d="M441.5 336.5v2.78" stroke="#000" stroke-width="0.83"/>
<path d="M473.5 336.5v2.78" stroke="#000" stroke-width="0.83"/>
<path d="M489.5 336.5v2.78" stroke="#000" stroke-width="0.83"/>
<path d="M501.5 336.5v2.78" stroke="#000" stroke-width="0.83"/>
<path d="M510.5 336.5v2.78" stroke="#000" stroke-width="0.83"/>
<path d="M517.5 336.5v2.78" stroke="#000" stroke-width="0.83"/>
<path d="M523.5 336.5v2.78" stroke="#000" stroke-width="0.83"/>
<path d="M529.5 336.5v2.78" stroke="#000" stroke-width="0.83"/>
<path d="M533.5 336.5v2.78" stroke="#000" stroke-width="0.83"/>
<path d="M77.5 336.5v5.0M169.5 336.5v5.0M261.5 336.5v5.0M353.5 336.5v5.0M445.5 336.5v5.0M538.5 336.5v5.0M77.5 336.5h-4.5M77.5 298.5h-4.5M77.5 259.5h-4.5M77.5 221.5h-4.5M77.5 182.5h-4.5M77.5 144.5h-4.5M77.5 106.5h-4.5M77.5 67.5h-4.5" stroke="#000" stroke-width="1.11" fill="none"/>
<g font-family="DejaVu Sans, Liberation Sans, sans-serif" font-size="13.89" fill="#000">
<text x="77.20" y="356.6" text-anchor="middle" letter-spacing="-0.3">0.01</text>
<text x="169.36" y="356.6" text-anchor="middle" letter-spacing="-0.3">0.1</text>
<text x="261.52" y="356.6" text-anchor="middle" letter-spacing="-0.3">1</text>
<text x="353.68" y="356.6" text-anchor="middle" letter-spacing="-0.3">10</text>
<text x="445.84" y="356.6" text-anchor="middle" letter-spacing="-0.3">100</text>
<text x="538.00" y="356.6" text-anchor="middle" letter-spacing="-0.3">1000</text>
<text x="66.3" y="341.30" text-anchor="end" letter-spacing="-0.3">−200</text>
<text x="66.3" y="302.90" text-anchor="end" letter-spacing="-0.3">−180</text>
<text x="66.3" y="264.50" text-anchor="end" letter-spacing="-0.3">−160</text>
<text x="66.3" y="226.10" text-anchor="end" letter-spacing="-0.3">−140</text>
<text x="66.3" y="187.70" text-anchor="end" letter-spacing="-0.3">−120</text>
<text x="66.3" y="149.30" text-anchor="end" letter-spacing="-0.3">−100</text>
<text x="66.3" y="110.90" text-anchor="end" letter-spacing="-0.3">−80</text>
<text x="66.3" y="72.50" text-anchor="end" letter-spacing="-0.3">−60</text>
<text x="307.2" y="375.6" text-anchor="middle">Period [s]</text>
<text transform="translate(16.6 191.8) rotate(-90)" text-anchor="middle" letter-spacing="0.12">Power [<tspan font-style="italic">m</tspan><tspan font-size="9.72" dy="-4.8">2</tspan><tspan font-style="italic" dy="4.8">/s</tspan><tspan font-size="9.72" dy="-4.8">4</tspan><tspan font-style="italic" dy="4.8">/Hz</tspan>] [dB]</text>
</g>
<g font-family="DejaVu Sans, Liberation Sans, sans-serif" font-size="12.5" fill="#000" text-anchor="middle">
<text x="305.5" y="9.67" xml:space="preserve" style="white-space:pre">BK.YBH.50.HHN   2022-02-04 -- 2022-02-04  (35/35 segments)</text>
<text x="307.6" y="24.67">sensor_type STS-2.5 sensor_sn 120950</text>
<text x="307.5" y="39.67">datalogger_type Q330 datalogger_sn 4533</text>
</g>
<g shape-rendering="crispEdges"><rect x="116" y="379" width="408" height="8" fill="#008000"/>
<rect x="116" y="387" width="402" height="11" fill="#0000ff"/></g>
<path d="M96.5 379.5H544.5V398.5H96.5Z" stroke="#000" stroke-width="1.11" fill="none"/>
<g font-family="DejaVu Sans, Liberation Sans, sans-serif" font-size="13.89" fill="#000">
<text transform="translate(114.46 418.00) rotate(-30)" text-anchor="end">02-04 00</text>
<text transform="translate(159.09 418.00) rotate(-30)" text-anchor="end">02-04 02</text>
<text transform="translate(203.73 418.00) rotate(-30)" text-anchor="end">02-04 04</text>
<text transform="translate(248.36 418.00) rotate(-30)" text-anchor="end">02-04 06</text>
<text transform="translate(292.99 418.00) rotate(-30)" text-anchor="end">02-04 08</text>
<text transform="translate(337.62 418.00) rotate(-30)" text-anchor="end">02-04 10</text>
<text transform="translate(382.26 418.00) rotate(-30)" text-anchor="end">02-04 12</text>
<text transform="translate(426.89 418.00) rotate(-30)" text-anchor="end">02-04 14</text>
<text transform="translate(471.52 418.00) rotate(-30)" text-anchor="end">02-04 16</text>
<text transform="translate(516.15 418.00) rotate(-30)" text-anchor="end">02-04 18</text>
</g>
<path d="M116.5 398.5v4.86M161.5 398.5v4.86M206.5 398.5v4.86M250.5 398.5v4.86M295.5 398.5v4.86M340.5 398.5v4.86M384.5 398.5v4.86M429.5 398.5v4.86M473.5 398.5v4.86M518.5 398.5v4.86" stroke="#000" stroke-width="1.11" fill="none"/>
<defs><linearGradient id="cb" x1="0" y1="1" x2="0" y2="0">
<stop offset="0.0000" stop-color="#ffffff"/><stop offset="0.0312" stop-color="#f4f7ea"/><stop offset="0.0625" stop-color="#e8efd4"/><stop offset="0.0938" stop-color="#dce7bf"/><stop offset="0.1250" stop-color="#d3e4ac"/><stop offset="0.1562" stop-color="#cae19a"/><stop offset="0.1875" stop-color="#c1dd87"/><stop offset="0.2188" stop-color="#acd976"/><stop offset="0.2500" stop-color="#96d464"/><stop offset="0.2812" stop-color="#80d053"/><stop offset="0.3125" stop-color="#60c460"/><stop offset="0.3438" stop-color="#3eb874"/><stop offset="0.3750" stop-color="#27ad81"/><stop offset="0.4062" stop-color="#21a685"/><stop offset="0.4375" stop-color="#1f9f88"/><stop offset="0.4688" stop-color="#1f978b"/><stop offset="0.5000" stop-color="#21908d"/><stop offset="0.5312" stop-color="#23888e"/><stop offset="0.5625" stop-color="#26818e"/><stop offset="0.5938" stop-color="#29798e"/><stop offset="0.6250" stop-color="#2c718e"/><stop offset="0.6562" stop-color="#306a8e"/><stop offset="0.6875" stop-color="#33628d"/><stop offset="0.7188" stop-color="#375a8c"/><stop offset="0.7500" stop-color="#3b518b"/><stop offset="0.7812" stop-color="#3f4889"/><stop offset="0.8125" stop-color="#423f85"/><stop offset="0.8438" stop-color="#453581"/><stop offset="0.8750" stop-color="#472c7a"/><stop offset="0.9062" stop-color="#482173"/><stop offset="0.9375" stop-color="#481769"/><stop offset="0.9688" stop-color="#460b5e"/><stop offset="1.0000" stop-color="#440154"/>
</linearGradient></defs>
<rect x="566.4" y="249.6" width="4.32000000000005" height="86.4" fill="url(#cb)"/>
<rect x="566.5" y="250.5" width="5.0" height="86.0" fill="none" stroke="#000" stroke-width="1.11"/>
<g font-family="DejaVu Sans, Liberation Sans, sans-serif" font-size="13.89" fill="#000">
<text x="590.80" y="341.40" letter-spacing="-0.3">0</text>
<text x="590.80" y="327.00" letter-spacing="-0.3">5</text>
<text x="590.80" y="312.60" letter-spacing="-0.3">10</text>
<text x="590.80" y="298.20" letter-spacing="-0.3">15</text>
<text x="590.80" y="283.80" letter-spacing="-0.3">20</text>
<text x="590.80" y="269.40" letter-spacing="-0.3">25</text>
<text x="590.80" y="255.00" letter-spacing="-0.3">30</text>
<text transform="translate(624.5 194.5) rotate(-90)" text-anchor="middle">[%]</text>
</g>
<path d="M581.3 336.5h4.86M581.3 322.5h4.86M581.3 307.5h4.86M581.3 293.5h4.86M581.3 278.5h4.86M581.3 264.5h4.86M581.3 250.5h4.86" stroke="#000" stroke-width="1.11" fill="none"/>
</svg>
</body></html>
